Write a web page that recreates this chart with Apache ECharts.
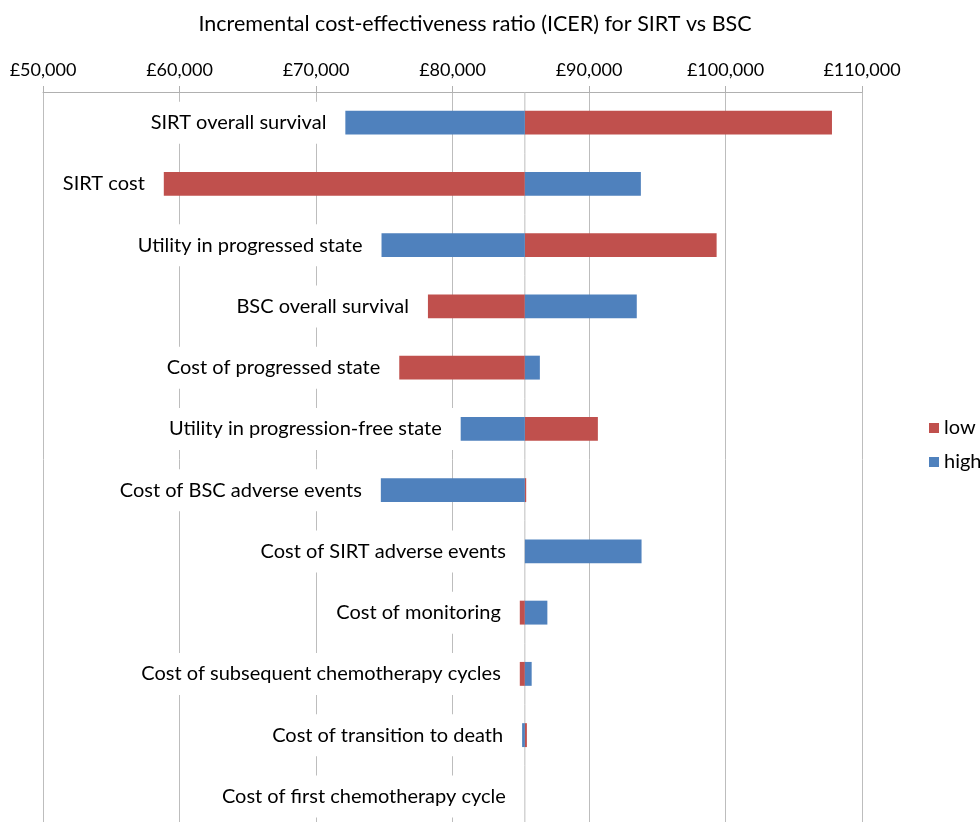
<!DOCTYPE html>
<html>
<head>
<meta charset="utf-8">
<script src="https://cdn.jsdelivr.net/npm/echarts@6/dist/echarts.min.js"></script>
<style>
  html, body { margin: 0; padding: 0; background: #fff; overflow: hidden; }
  #chart { width: 980px; height: 830px; }
</style>
</head>
<body>
<div id="chart"></div>
<script>
// tornado data
var baseIcer = 85300;
var categories = [
    'SIRT overall survival',
    'SIRT cost',
    'Utility in progressed state',
    'BSC overall survival',
    'Cost of progressed state',
    'Utility in progression-free state',
    'Cost of BSC adverse events',
    'Cost of SIRT adverse events',
    'Cost of monitoring',
    'Cost of subsequent chemotherapy cycles',
    'Cost of transition to death',
    'Cost of first chemotherapy cycle'
];
var lowValues  = [107800, 58850, 99350, 78200, 76100, 90650, 85400, 85300, 84930, 84930, 85450, 85300];
var highValues = [72150, 93800, 74800, 93500, 86400, 80600, 74750, 93850, 86950, 85800, 85100, 85300];
var tickLabels = ['£50,000', '£60,000', '£70,000', '£80,000', '£90,000', '£100,000', '£110,000'];

var FONT = 'Lato';
var RED = '#C0504D';
var BLUE = '#4F81BD';

var dom = document.getElementById('chart');
var myChart = echarts.init(dom);

// bar from the base value to v
function barRender(color) {
    return function (params, api) {
        var i = api.value(0);
        var p0 = api.coord([baseIcer, i]);
        var p1 = api.coord([api.value(1), i]);
        var h = api.size([0, 1])[1] * 0.39;
        return {
            type: 'rect',
            shape: {
                x: Math.min(p0[0], p1[0]),
                y: p0[1] - h / 2,
                width: Math.abs(p1[0] - p0[0]),
                height: h
            },
            style: { fill: color }
        };
    };
}

function toData(arr) {
    return arr.map(function (v, i) { return [i, v]; });
}

// left end of each row, used for the label
var leftEnds = categories.map(function (c, i) {
    return [i, Math.min(baseIcer, lowValues[i], highValues[i])];
});

var option = {
    animation: false,
    title: {
        text: 'Incremental cost-effectiveness ratio (ICER) for SIRT vs BSC',
        left: 470,
        textAlign: 'center',
        top: 8,
        textStyle: { fontFamily: FONT, fontSize: 21.5, fontWeight: 'normal', color: '#000' }
    },
    legend: {
        orient: 'vertical',
        left: 924,
        top: 413,
        itemWidth: 10,
        itemHeight: 10,
        itemGap: 14,
        icon: 'rect',
        data: ['low', 'high'],
        textStyle: { fontFamily: FONT, fontSize: 20, color: '#000' }
    },
    grid: { left: 43, right: 118, top: 92, height: 735 },
    xAxis: {
        type: 'value',
        position: 'top',
        min: 50000,
        max: 110000,
        interval: 10000,
        axisLine: { show: true, lineStyle: { color: '#b0b0b0' } },
        axisTick: { show: true, length: 6, lineStyle: { color: '#b0b0b0' } },
        splitLine: { show: true, lineStyle: { color: '#bdbdbd', width: 1 } },
        axisLabel: {
            margin: 13,
            fontFamily: FONT,
            fontSize: 18,
            color: '#000',
            formatter: function (v) {
                return tickLabels[Math.round((v - 50000) / 10000)];
            }
        }
    },
    yAxis: {
        type: 'category',
        data: categories,
        inverse: true,
        axisLine: { show: false },
        axisTick: { show: false },
        axisLabel: { show: false },
        splitLine: { show: false }
    },
    series: [
        {
            name: 'labels',
            type: 'custom',
            data: leftEnds,
            encode: { x: 1, y: 0 },
            z: 3,
            renderItem: function (params, api) {
                var i = api.value(0);
                var p = api.coord([api.value(1), i]);
                var pb = api.coord([baseIcer, i]);
                var band = api.size([0, 1])[1];
                return {
                    type: 'group',
                    children: [
                        {
                            type: 'text',
                            style: {
                                text: categories[i],
                                x: p[0] - 7,
                                y: p[1],
                                align: 'right',
                                verticalAlign: 'middle',
                                fill: '#000',
                                font: '20px ' + FONT,
                                backgroundColor: '#fff',
                                padding: [11, 12, 11, 4]
                            }
                        },
                        {
                            type: 'line',
                            shape: { x1: pb[0], y1: pb[1] - band / 2, x2: pb[0], y2: pb[1] + band / 2 },
                            style: { stroke: '#bdbdbd', lineWidth: 1 }
                        }
                    ]
                };
            }
        },
        {
            name: 'low',
            type: 'custom',
            data: toData(lowValues),
            encode: { x: 1, y: 0 },
            itemStyle: { color: RED },
            z: 4,
            renderItem: barRender(RED)
        },
        {
            name: 'high',
            type: 'custom',
            data: toData(highValues),
            encode: { x: 1, y: 0 },
            itemStyle: { color: BLUE },
            z: 4,
            renderItem: barRender(BLUE)
        }
    ]
};

myChart.setOption(option);

window.addEventListener('resize', function () {
    myChart.resize();
});
</script>
</body>
</html>
